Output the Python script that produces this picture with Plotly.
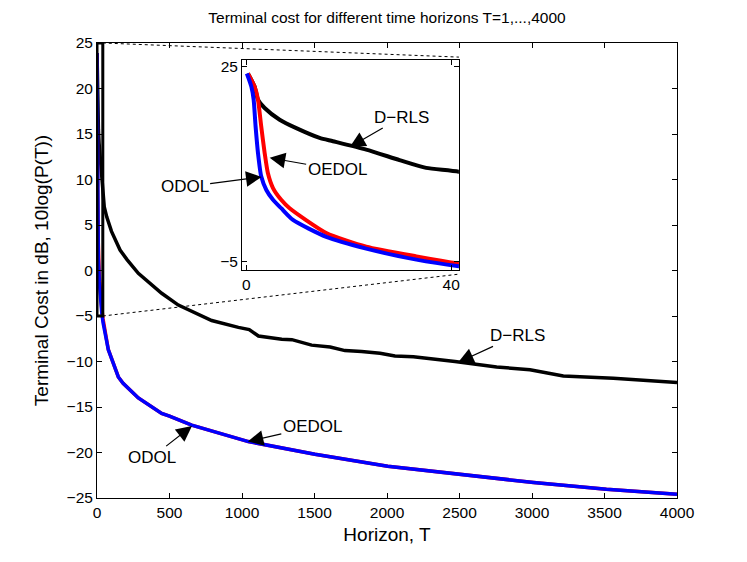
import plotly.graph_objects as go

# values (T, terminal cost in dB)
t_drls = [0.3, 1.6, 2.27, 3.57, 6.5, 9.75, 14.3, 16.9, 23.4, 29.9, 35.1, 41.5,
          50, 67, 100, 159, 207, 285, 446, 561, 676, 791, 975, 1050, 1113, 1274,
          1344, 1480, 1608, 1710, 1825, 1952, 2055, 2182, 2469, 2756, 2986,
          3216, 3561, 3860, 4000]
c_drls = [23.9, 21.9, 19.9, 18.6, 16.8, 15.5, 14.0, 13.5, 12.2, 10.6, 9.4, 8.8,
          7.0, 5.9, 4.3, 2.25, 1.2, -0.31, -2.5, -3.8, -4.7, -5.5, -6.25, -6.5,
          -7.2, -7.56, -7.6, -8.2, -8.4, -8.8, -8.9, -9.1, -9.4, -9.47, -10.0,
          -10.6, -10.9, -11.6, -11.85, -12.2, -12.3]

t_oedol = [0.3, 1.6, 2.27, 2.9, 3.57, 4.2, 5.2, 6.8, 8.45, 15.6, 23.4, 33.2, 41.5,
           78, 147, 180, 285, 446, 500, 653, 1044, 1320, 1503, 2005, 2508, 3011,
           3513, 4000]
c_oedol = [23.9, 21.9, 19.9, 15.8, 11.7, 8.6, 6.3, 4.5, 3.2, -0.6, -2.7, -4.2, -5.3,
           -8.7, -11.7, -12.4, -14.0, -15.7, -16.0, -17.0, -18.8, -19.7, -20.2,
           -21.5, -22.4, -23.3, -24.05, -24.6]

t_odol = [0.1, 0.97, 1.42, 1.8, 2.27, 2.9, 3.9, 5.2, 6.8, 9.1, 15.6, 23.4, 33.2, 41.5,
          78, 147, 180, 285, 446, 500, 653, 1044, 1320, 1503, 2005, 2508, 3011,
          3513, 4000]
c_odol = [23.9, 21.9, 19.9, 15.8, 11.7, 8.1, 6.0, 4.5, 3.2, 1.4, -1.2, -3.0, -4.7, -5.7,
          -8.7, -11.7, -12.4, -14.0, -15.7, -16.0, -17.0, -18.8, -19.7, -20.2,
          -21.5, -22.4, -23.3, -24.05, -24.6]

x_ticks = [0, 500, 1000, 1500, 2000, 2500, 3000, 3500, 4000]
y_ticks = [-25, -20, -15, -10, -5, 0, 5, 10, 15, 20, 25]

FONT = "Liberation Sans, Arial, Helvetica, sans-serif"
FS = 15.5
zoom_x = [0, 40]
zoom_y = [-5, 25]
main_x = [0, 4000]
main_y = [-25, 25]
inset_dx = [0.25, 0.624]
inset_dy = [0.501, 0.963]

fig = go.Figure()

series = [(t_drls, c_drls, "black"), (t_oedol, c_oedol, "red"), (t_odol, c_odol, "blue")]
for t, c, col in series:
    fig.add_trace(go.Scatter(x=t, y=c, mode="lines", line=dict(color=col, width=3.5),
                             showlegend=False, xaxis="x", yaxis="y"))
for t, c, col in series:
    fig.add_trace(go.Scatter(x=t, y=c, mode="lines",
                             line=dict(color=col, width=4, shape="spline", smoothing=0.6),
                             showlegend=False, xaxis="x2", yaxis="y2"))

axis_common = dict(showline=True, linecolor="black", linewidth=1, mirror="allticks",
                   ticks="inside", ticklen=5, tickcolor="black", showgrid=False,
                   zeroline=False, tickfont=dict(size=FS, color="black"))

fig.update_layout(
    width=747, height=562,
    margin=dict(l=89, r=78, t=35, b=72),
    plot_bgcolor="white", paper_bgcolor="white",
    font=dict(family=FONT, size=FS, color="black"),
    title=dict(text="Terminal cost for different time horizons T=1,...,4000",
               x=(89 + 0.5 * (747 - 89 - 78)) / 747, xanchor="center",
               y=1 - 10 / 562, yanchor="middle", yref="container",
               font=dict(size=FS)),
    xaxis=dict(range=main_x, tickvals=x_ticks, domain=[0, 1],
               title=dict(text="Horizon, T", standoff=8), **axis_common),
    yaxis=dict(range=main_y, tickvals=y_ticks, domain=[0, 1],
               title=dict(text="Terminal Cost in dB, 10log(P(T))", standoff=12),
               **axis_common),
    xaxis2=dict(range=[-0.85, 41.5], tickvals=[0, 40], domain=inset_dx,
                anchor="y2", **axis_common),
    yaxis2=dict(range=[-6.3, 26.0], tickvals=[-5, 25], domain=inset_dy,
                anchor="x2", **axis_common),
)

# zoom box in the main axes
fig.add_shape(type="rect", xref="x", yref="y", x0=zoom_x[0], x1=zoom_x[1],
              y0=zoom_y[0], y1=zoom_y[1], line=dict(color="black", width=3))

# dotted connector lines (paper coordinates)
def px(v):
    return (v - main_x[0]) / (main_x[1] - main_x[0])

def py(v):
    return (v - main_y[0]) / (main_y[1] - main_y[0])

fig.add_shape(type="line", xref="paper", yref="paper",
              x0=px(zoom_x[1]), y0=py(zoom_y[1]), x1=inset_dx[1], y1=inset_dy[1] + 0.006,
              line=dict(color="black", width=1, dash="dot"))
fig.add_shape(type="line", xref="paper", yref="paper",
              x0=px(zoom_x[1]), y0=py(zoom_y[0]), x1=inset_dx[1], y1=inset_dy[0] - 0.009,
              line=dict(color="black", width=1, dash="dot"))

arrow = dict(showarrow=True, arrowhead=2, arrowsize=2.6, arrowwidth=1.2,
             arrowcolor="black", font=dict(size=17, color="black"))
notes = [
    ("x", "y", 2490, -10.1, 59, -27, "D\u2212RLS"),
    ("x", "y", 1040, -18.8, 65, -15, "OEDOL"),
    ("x", "y", 655, -17.1, -40, 31, "ODOL"),
    ("x2", "y2", 20.2, 12.6, 52, -30, "D\u2212RLS"),
    ("x2", "y2", 4.55, 10.95, 68, 12, "OEDOL"),
    ("x2", "y2", 2.98, 8.0, -77, 10, "ODOL"),
]
for xr, yr, x, y, ax, ay, txt in notes:
    fig.add_annotation(xref=xr, yref=yr, x=x, y=y, ax=ax, ay=ay, text=txt, **arrow)

fig.write_html("out.html")
